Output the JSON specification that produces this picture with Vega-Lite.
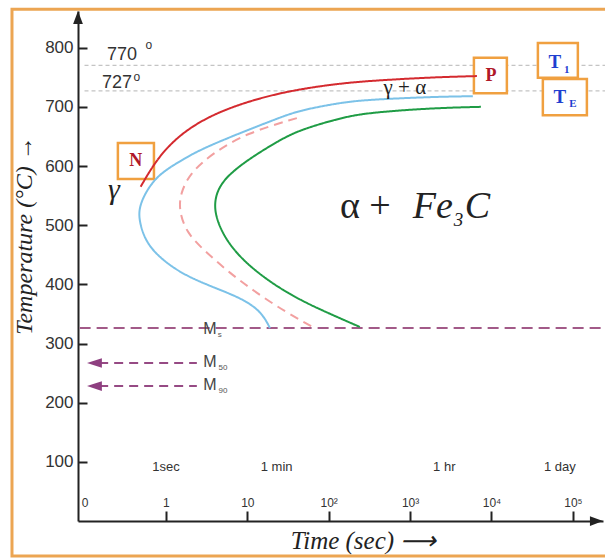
{
  "$schema": "https://vega.github.io/schema/vega-lite/v6.json",
  "width": 525,
  "height": 510,
  "autosize": {"type": "none"},
  "padding": {"left": 78, "top": 11, "right": 2, "bottom": 39},
  "background": "white",
  "config": {"view": {"stroke": null}},
  "datasets": {
    "frame": [{"t": -1.891, "t2": 5.46, "T": -59, "T2": 865}],
    "refs": [{"t": -1.0, "t2": 5.46, "T": 770}, {"t": -1.0, "t2": 5.46, "T": 727}],
    "ms": [{"t": -1.06, "t2": 5.46, "T": 326}],
    "mlines": [{"t": -0.82, "t2": 0.38, "T": 267}, {"t": -0.82, "t2": 0.38, "T": 228}],
    "mheads": [{"t": -0.878, "T": 267}, {"t": -0.878, "T": 228}],
    "boxes": [
      {"name": "N", "t": -0.59, "t2": -0.147, "T": 578, "T2": 639},
      {"name": "P", "t": 3.784, "t2": 4.189, "T": 723, "T2": 783},
      {"name": "T1", "t": 4.57, "t2": 5.061, "T": 749, "T2": 808},
      {"name": "TE", "t": 4.631, "t2": 5.172, "T": 686, "T2": 747}
    ],
    "curves": [
      {"c": "start", "i": 0, "t": -0.31, "T": 565},
      {"c": "start", "i": 1, "t": -0.172, "T": 598},
      {"c": "start", "i": 2, "t": 0.012, "T": 632},
      {"c": "start", "i": 3, "t": 0.295, "T": 666},
      {"c": "start", "i": 4, "t": 0.725, "T": 697},
      {"c": "start", "i": 5, "t": 1.4, "T": 725},
      {"c": "start", "i": 6, "t": 2.138, "T": 740},
      {"c": "start", "i": 7, "t": 2.629, "T": 745},
      {"c": "start", "i": 8, "t": 3.28, "T": 750},
      {"c": "start", "i": 9, "t": 3.821, "T": 752},
      {"c": "blue", "i": 0, "t": 3.771, "T": 718},
      {"c": "blue", "i": 1, "t": 3.28, "T": 717},
      {"c": "blue", "i": 2, "t": 2.469, "T": 712},
      {"c": "blue", "i": 3, "t": 2.138, "T": 707},
      {"c": "blue", "i": 4, "t": 1.646, "T": 694},
      {"c": "blue", "i": 5, "t": 1.4, "T": 682},
      {"c": "blue", "i": 6, "t": 0.786, "T": 649},
      {"c": "blue", "i": 7, "t": 0.418, "T": 627},
      {"c": "blue", "i": 8, "t": 0.258, "T": 615},
      {"c": "blue", "i": 9, "t": -0.074, "T": 588},
      {"c": "blue", "i": 10, "t": -0.233, "T": 560},
      {"c": "blue", "i": 11, "t": -0.33, "T": 531},
      {"c": "blue", "i": 12, "t": -0.33, "T": 507},
      {"c": "blue", "i": 13, "t": -0.245, "T": 470},
      {"c": "blue", "i": 14, "t": -0.037, "T": 440},
      {"c": "blue", "i": 15, "t": 0.258, "T": 413},
      {"c": "blue", "i": 16, "t": 0.663, "T": 391},
      {"c": "blue", "i": 17, "t": 0.995, "T": 372},
      {"c": "blue", "i": 18, "t": 1.19, "T": 350},
      {"c": "blue", "i": 19, "t": 1.278, "T": 326},
      {"c": "half", "i": 0, "t": 1.609, "T": 681},
      {"c": "half", "i": 1, "t": 0.995, "T": 656},
      {"c": "half", "i": 2, "t": 0.577, "T": 622},
      {"c": "half", "i": 3, "t": 0.295, "T": 588},
      {"c": "half", "i": 4, "t": 0.18, "T": 554},
      {"c": "half", "i": 5, "t": 0.16, "T": 526},
      {"c": "half", "i": 6, "t": 0.25, "T": 487},
      {"c": "half", "i": 7, "t": 0.504, "T": 453},
      {"c": "half", "i": 8, "t": 0.786, "T": 419},
      {"c": "half", "i": 9, "t": 1.118, "T": 385},
      {"c": "half", "i": 10, "t": 1.486, "T": 352},
      {"c": "half", "i": 11, "t": 1.83, "T": 326},
      {"c": "finish", "i": 0, "t": 3.87, "T": 700},
      {"c": "finish", "i": 1, "t": 3.28, "T": 698},
      {"c": "finish", "i": 2, "t": 2.469, "T": 690},
      {"c": "finish", "i": 3, "t": 2.138, "T": 681},
      {"c": "finish", "i": 4, "t": 1.646, "T": 661},
      {"c": "finish", "i": 5, "t": 1.4, "T": 644},
      {"c": "finish", "i": 6, "t": 0.995, "T": 610},
      {"c": "finish", "i": 7, "t": 0.69, "T": 576},
      {"c": "finish", "i": 8, "t": 0.59, "T": 543},
      {"c": "finish", "i": 9, "t": 0.615, "T": 509},
      {"c": "finish", "i": 10, "t": 0.786, "T": 463},
      {"c": "finish", "i": 11, "t": 1.118, "T": 419},
      {"c": "finish", "i": 12, "t": 1.56, "T": 379},
      {"c": "finish", "i": 13, "t": 2.015, "T": 350},
      {"c": "finish", "i": 14, "t": 2.383, "T": 328}
    ],
    "tempLabels": [{"label": "770", "t": -0.725, "T": 788}, {"label": "727", "t": -0.786, "T": 740}],
    "degLabels": [{"label": "o", "t": -0.21, "T": 805}, {"label": "o", "t": -0.356, "T": 750}],
    "gammaAlpha": [{"label": "γ + α", "t": 2.936, "T": 732}],
    "alphaPlus": [{"label": "α +", "t": 2.138, "T": 512}],
    "fec": [{"label": "Fe", "t": 3.034, "T": 512}, {"label": "C", "t": 3.67, "T": 512}],
    "sub3": [{"label": "3", "t": 3.535, "T": 499}],
    "gamma": [{"label": "γ", "t": -0.639, "T": 560}],
    "redLetters": [{"label": "N", "t": -0.369, "T": 609}, {"label": "P", "t": 3.993, "T": 752}],
    "blueT": [{"label": "T", "t": 4.779, "T": 776}, {"label": "T", "t": 4.84, "T": 717}],
    "blueSub": [{"label": "1", "t": 4.926, "T": 763}, {"label": "E", "t": 5.0, "T": 705}],
    "mLabels": [{"label": "M", "t": 0.541, "T": 325}, {"label": "M", "t": 0.541, "T": 269}, {"label": "M", "t": 0.541, "T": 230}],
    "mSubs": [{"label": "s", "t": 0.66, "T": 315}, {"label": "50", "t": 0.70, "T": 259}, {"label": "90", "t": 0.70, "T": 220}],
    "timeLabels": [{"label": "1sec", "t": 0, "T": 91}, {"label": "1 min", "t": 1.36, "T": 91}, {"label": "1 hr", "t": 3.42, "T": 91}, {"label": "1 day", "t": 4.84, "T": 91}],
    "yArrow": [{"t": -1.08, "T": 851}],
    "xArrow": [{"t": 5.289, "T": 0}]
  },
  "encoding": {
    "x": {
      "field": "t",
      "type": "quantitative",
      "scale": {"domain": [-1.08, 5.37], "nice": false, "zero": false},
      "axis": {
        "values": [-1, 0, 1, 2, 3, 4, 5],
        "labelExpr": "datum.value == -1 ? '0' : datum.value == 0 ? '1' : datum.value == 1 ? '10' : datum.value == 2 ? '10²' : datum.value == 3 ? '10³' : datum.value == 4 ? '10⁴' : '10⁵'",
        "grid": false,
        "tickSize": -10,
        "tickWidth": 2,
        "tickColor": "#222",
        "tickOpacity": {"condition": {"test": "datum.value < -0.5", "value": 0}, "value": 1},
        "labelPadding": -14,
        "labelBaseline": "top",
        "labelFont": "Liberation Sans",
        "labelFontSize": 12,
        "labelColor": "#333",
        "labelFlush": false,
        "labelOverlap": false,
        "domainColor": "#222",
        "domainWidth": 2,
        "title": "Time (sec)  ⟶",
        "titleFont": "Liberation Serif",
        "titleFontStyle": "italic",
        "titleFontWeight": "normal",
        "titleFontSize": 25,
        "titleColor": "#222",
        "titleX": 285,
        "titleY": 27,
        "titleAlign": "center",
        "titleBaseline": "alphabetic"
      }
    },
    "y": {
      "field": "T",
      "type": "quantitative",
      "scale": {"domain": [0, 862], "nice": false, "zero": false},
      "axis": {
        "values": [100, 200, 300, 400, 500, 600, 700, 800],
        "grid": false,
        "tickSize": -9,
        "tickWidth": 2,
        "tickColor": "#222",
        "labelPadding": 14,
        "labelFont": "Liberation Sans",
        "labelFontSize": 17,
        "labelColor": "#333",
        "labelFlush": false,
        "labelOverlap": false,
        "domainColor": "#222",
        "domainWidth": 2,
        "title": "Temperature  (°C)  →",
        "titleFont": "Liberation Serif",
        "titleFontStyle": "italic",
        "titleFontWeight": "normal",
        "titleFontSize": 24,
        "titleColor": "#222",
        "titleAngle": 270,
        "titleX": -54,
        "titleY": 224,
        "titleAlign": "center",
        "titleBaseline": "middle"
      }
    }
  },
  "layer": [
    {
      "data": {"name": "frame"},
      "mark": {"type": "rect", "filled": false, "stroke": "#eca552", "strokeWidth": 3, "clip": false},
      "encoding": {"x2": {"field": "t2"}, "y2": {"field": "T2"}}
    },
    {
      "data": {"name": "refs"},
      "mark": {"type": "rule", "stroke": "#c4c4c4", "strokeWidth": 1.2, "strokeDash": [4, 3]},
      "encoding": {"x2": {"field": "t2"}}
    },
    {
      "data": {"name": "ms"},
      "mark": {"type": "rule", "stroke": "#a25a88", "strokeWidth": 2, "strokeDash": [11, 6]},
      "encoding": {"x2": {"field": "t2"}}
    },
    {
      "data": {"name": "mlines"},
      "mark": {"type": "rule", "stroke": "#964a84", "strokeWidth": 2, "strokeDash": [9, 6]},
      "encoding": {"x2": {"field": "t2"}}
    },
    {
      "data": {"name": "mheads"},
      "mark": {"type": "point", "shape": "M-1,0L1,-0.65L1,0.65Z", "filled": true, "color": "#8e3f80", "opacity": 1, "size": 220}
    },
    {
      "data": {"name": "boxes"},
      "mark": {"type": "rect", "fill": "white", "stroke": "#f0a040", "strokeWidth": 2.5},
      "encoding": {"x2": {"field": "t2"}, "y2": {"field": "T2"}}
    },
    {
      "data": {"name": "curves"},
      "mark": {"type": "line", "interpolate": "basis", "strokeWidth": 2},
      "encoding": {
        "order": {"field": "i", "type": "quantitative"},
        "color": {"field": "c", "type": "nominal", "scale": {"domain": ["start", "blue", "half", "finish"], "range": ["#d42a2f", "#7cc2e8", "#f2a0a0", "#1f9c45"]}, "legend": null},
        "strokeDash": {"field": "c", "type": "nominal", "scale": {"domain": ["start", "blue", "half", "finish"], "range": [[1, 0], [1, 0], [9, 6], [1, 0]]}, "legend": null}
      }
    },
    {
      "data": {"name": "tempLabels"},
      "mark": {"type": "text", "align": "left", "baseline": "middle", "font": "Liberation Sans", "fontSize": 18, "color": "#333"},
      "encoding": {"text": {"field": "label"}}
    },
    {
      "data": {"name": "degLabels"},
      "mark": {"type": "text", "align": "center", "baseline": "middle", "font": "Liberation Sans", "fontSize": 12, "color": "#333"},
      "encoding": {"text": {"field": "label"}}
    },
    {
      "data": {"name": "gammaAlpha"},
      "mark": {"type": "text", "align": "center", "baseline": "middle", "font": "Liberation Serif", "fontSize": 21, "color": "#222"},
      "encoding": {"text": {"field": "label"}}
    },
    {
      "data": {"name": "alphaPlus"},
      "mark": {"type": "text", "align": "left", "baseline": "alphabetic", "font": "Liberation Serif", "fontSize": 38, "color": "#222"},
      "encoding": {"text": {"field": "label"}}
    },
    {
      "data": {"name": "fec"},
      "mark": {"type": "text", "align": "left", "baseline": "alphabetic", "font": "Liberation Serif", "fontStyle": "italic", "fontSize": 38, "color": "#222"},
      "encoding": {"text": {"field": "label"}}
    },
    {
      "data": {"name": "sub3"},
      "mark": {"type": "text", "align": "left", "baseline": "alphabetic", "font": "Liberation Serif", "fontStyle": "italic", "fontSize": 19, "color": "#222"},
      "encoding": {"text": {"field": "label"}}
    },
    {
      "data": {"name": "gamma"},
      "mark": {"type": "text", "align": "center", "baseline": "middle", "font": "Liberation Serif", "fontStyle": "italic", "fontSize": 30, "color": "#222"},
      "encoding": {"text": {"field": "label"}}
    },
    {
      "data": {"name": "redLetters"},
      "mark": {"type": "text", "align": "center", "baseline": "middle", "font": "Liberation Serif", "fontWeight": "bold", "fontSize": 18, "color": "#b01828"},
      "encoding": {"text": {"field": "label"}}
    },
    {
      "data": {"name": "blueT"},
      "mark": {"type": "text", "align": "center", "baseline": "middle", "font": "Liberation Serif", "fontWeight": "bold", "fontSize": 19, "color": "#1f3fd0"},
      "encoding": {"text": {"field": "label"}}
    },
    {
      "data": {"name": "blueSub"},
      "mark": {"type": "text", "align": "center", "baseline": "middle", "font": "Liberation Serif", "fontWeight": "bold", "fontSize": 11, "color": "#1f3fd0"},
      "encoding": {"text": {"field": "label"}}
    },
    {
      "data": {"name": "mLabels"},
      "mark": {"type": "text", "align": "center", "baseline": "middle", "font": "Liberation Sans", "fontSize": 16, "color": "#444"},
      "encoding": {"text": {"field": "label"}}
    },
    {
      "data": {"name": "mSubs"},
      "mark": {"type": "text", "align": "center", "baseline": "middle", "font": "Liberation Sans", "fontSize": 8, "color": "#555"},
      "encoding": {"text": {"field": "label"}}
    },
    {
      "data": {"name": "timeLabels"},
      "mark": {"type": "text", "align": "center", "baseline": "middle", "font": "Liberation Sans", "fontSize": 13, "color": "#333"},
      "encoding": {"text": {"field": "label"}}
    },
    {
      "data": {"name": "yArrow"},
      "mark": {"type": "point", "shape": "M0,-1L-0.75,1L0.75,1Z", "filled": true, "color": "#222", "opacity": 1, "size": 169, "clip": false}
    },
    {
      "data": {"name": "xArrow"},
      "mark": {"type": "point", "shape": "M1,0L-1,-0.75L-1,0.75Z", "filled": true, "color": "#222", "opacity": 1, "size": 169, "clip": false}
    }
  ]
}
